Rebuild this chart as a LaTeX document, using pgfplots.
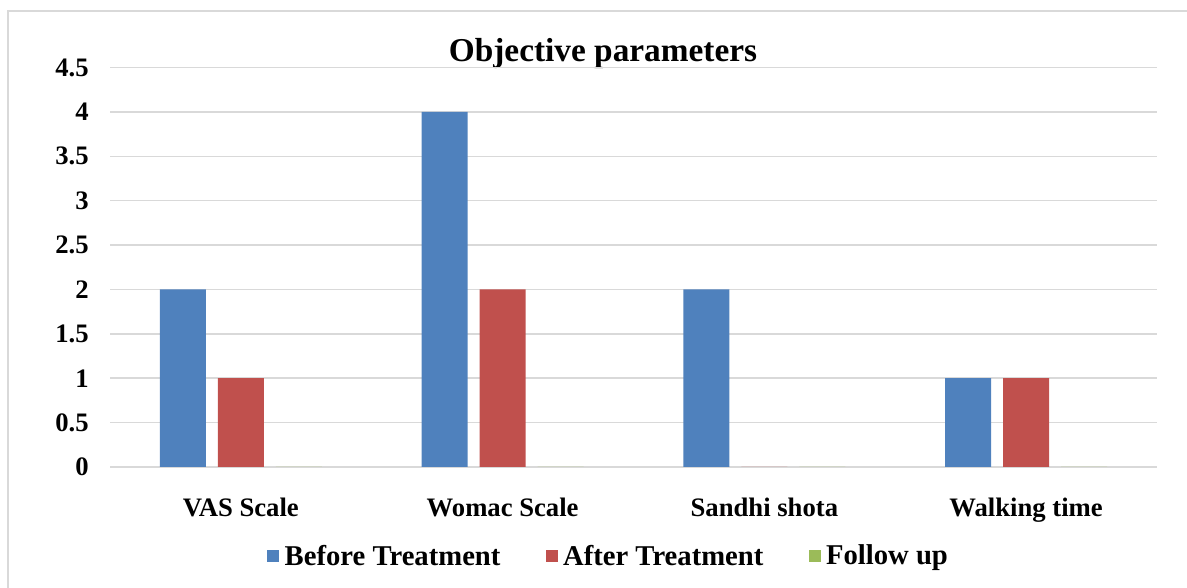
\documentclass[border=0pt]{standalone}
\usepackage{fontspec}
\setmainfont{Liberation Serif}
\usepackage{pgfplots}
\pgfplotsset{compat=1.18}
\definecolor{cblue}{HTML}{4F81BD}
\definecolor{cred}{HTML}{C0504D}
\definecolor{cgreen}{HTML}{9BBB59}
\definecolor{cgrid}{HTML}{D9D9D9}
\begin{document}
\begin{tikzpicture}[x=0.75pt,y=0.75pt]
\useasboundingbox (0,0) rectangle (1187,588);
\draw[cgrid,line width=1.5pt] (8,0) -- (8,577) -- (1187,577);
\node[anchor=base,font=\bfseries\fontsize{25}{30}\selectfont] at (603,526) {Objective parameters};
\begin{axis}[
  at={(82.5pt,90.75pt)}, anchor=south west,
  scale only axis,
  width=785.25pt, height=299.6pt,
  ymin=0, ymax=4.5,
  xmin=-0.5, xmax=3.5,
  ytick={0,0.5,...,4.5},
  yticklabels={0,0.5,1,1.5,2,2.5,3,3.5,4,4.5},
  xtick={0,1,2,3},
  xticklabels={VAS Scale,Womac Scale,Sandhi shota,Walking time},
  ymajorgrids,
  grid style={cgrid,line width=1.1pt},
  axis line style={draw=none},
  major tick length=0pt,
  /pgf/number format/assume math mode=true,
  ticklabel style={font=\bfseries\fontsize{20}{24}\selectfont},
  yticklabel style={xshift=-12.5pt},
  xticklabel style={yshift=-20pt},
  ybar=9pt,
  bar width=34.5pt,
  legend columns=3,
  legend style={at={(0.4766,-0.2228)}, anchor=center, draw=none,
    font=\bfseries\fontsize{21.5}{25}\selectfont,
    /tikz/every even column/.append style={column sep=32pt},
    /tikz/every odd column/.append style={column sep=2pt}},
  legend image code/.code={\fill[#1] (0pt,-4.5pt) rectangle (9pt,4.5pt);},
]
\addplot[fill=cblue,draw=none] coordinates {(0,2) (1,4) (2,2) (3,1)};
\addplot[fill=cred,draw=none] coordinates {(0,1) (1,2) (2,0) (3,1)};
\addplot[fill=cgreen,draw=none] coordinates {(0,0) (1,0) (2,0) (3,0)};
\legend{Before Treatment,After Treatment,Follow up}
\end{axis}
\end{tikzpicture}
\end{document}
